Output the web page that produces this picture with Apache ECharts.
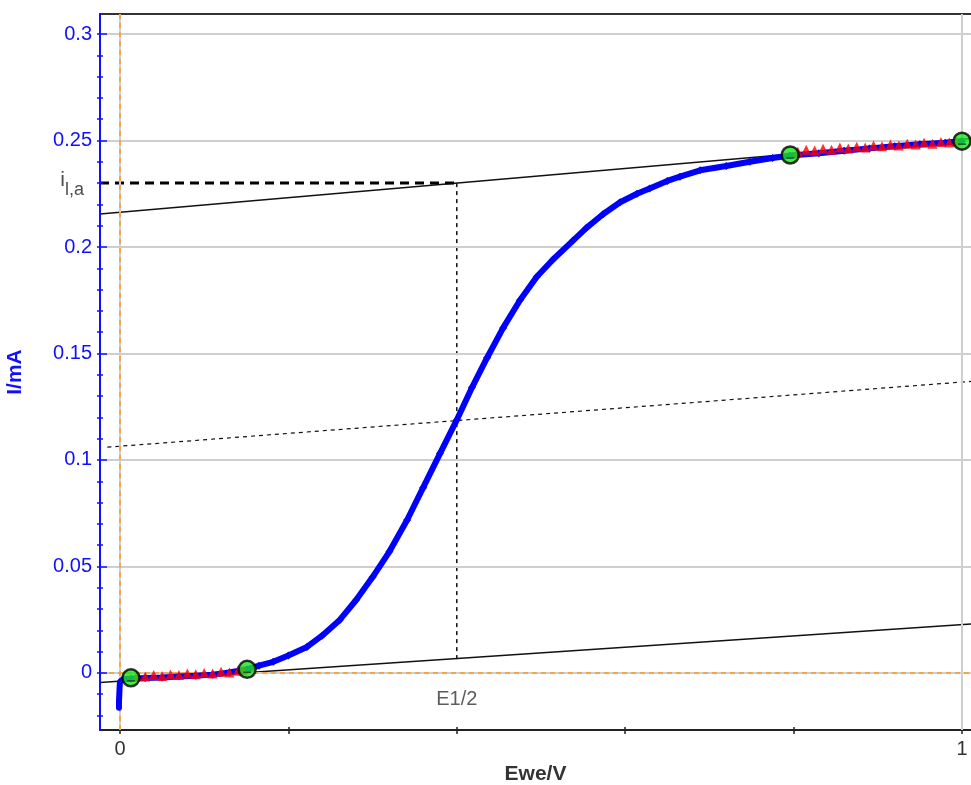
<!DOCTYPE html>
<html>
<head>
<meta charset="utf-8">
<script src="https://cdn.jsdelivr.net/npm/echarts@6/dist/echarts.min.js"></script>
<style>
html,body{margin:0;padding:0;background:#fff;}
#chart{width:971px;height:785px;}
</style>
</head>
<body>
<div id="chart"></div>
<script>
// ---- axis ranges and ticks ----
const xRange = [-0.02375, 1.0107];
const yRange = [-0.0268, 0.3094];
const xTicks = [0, 0.2, 0.4, 0.6, 0.8, 1];
const xTickLabels = [0, 1];
const yTickLabels = [0, 0.05, 0.1, 0.15, 0.2, 0.25, 0.3];
const yMinorTicks = [-0.02, -0.01, 0, 0.01, 0.02, 0.03, 0.04, 0.05, 0.06, 0.07, 0.08, 0.09, 0.1,
  0.11, 0.12, 0.13, 0.14, 0.15, 0.16, 0.17, 0.18, 0.19, 0.2, 0.21, 0.22, 0.23, 0.24, 0.25,
  0.26, 0.27, 0.28, 0.29, 0.3];
const xGridValues = [0, 1];

// ---- measured curve (Ewe/V, I/mA) ----
const blueSpike = [
  [-0.0012, -0.0163], [-0.0012, -0.013], [-0.0008, -0.010], [-0.0005, -0.007], [0.0, -0.004], [0.004, -0.003]
];
const bluePoints = [
  [0.004, -0.003],
  [0.013, -0.0027], [0.03, -0.0024], [0.05, -0.0021], [0.07, -0.0017], [0.09, -0.0013],
  [0.11, -0.0008], [0.13, 0.0002], [0.151, 0.0017], [0.165, 0.0034], [0.182, 0.0052],
  [0.20, 0.0082], [0.222, 0.0122], [0.24, 0.0175], [0.261, 0.0249], [0.28, 0.034],
  [0.30, 0.045], [0.32, 0.057], [0.341, 0.0718], [0.36, 0.087], [0.38, 0.103],
  [0.40, 0.1188], [0.418, 0.134], [0.436, 0.148], [0.455, 0.162], [0.475, 0.175],
  [0.495, 0.186], [0.514, 0.194], [0.538, 0.203], [0.554, 0.209], [0.574, 0.2155],
  [0.594, 0.221], [0.614, 0.225], [0.629, 0.2275], [0.65, 0.231], [0.665, 0.233],
  [0.689, 0.236], [0.72, 0.238], [0.748, 0.240], [0.775, 0.2418], [0.796, 0.2430],
  [0.83, 0.2440], [0.86, 0.2452], [0.89, 0.2463], [0.92, 0.2473], [0.95, 0.2482],
  [0.98, 0.2489], [1.0, 0.2497]
];
const redLeft = [
  [0.020, -0.0014], [0.030, -0.0017], [0.040, -0.0010], [0.050, -0.0014], [0.060, -0.0007],
  [0.070, -0.0010], [0.080, -0.0003], [0.090, -0.0006], [0.100, 0.0000], [0.110, -0.0003],
  [0.120, 0.0005], [0.130, 0.0002], [0.140, 0.0010], [0.146, 0.0013]
];
const redRight = [
  [0.805, 0.2447], [0.815, 0.2457], [0.825, 0.2453], [0.835, 0.2461], [0.845, 0.2457],
  [0.855, 0.2467], [0.865, 0.2463], [0.875, 0.2471], [0.885, 0.2467], [0.895, 0.2477],
  [0.905, 0.2473], [0.915, 0.2481], [0.925, 0.2477], [0.935, 0.2485], [0.945, 0.2481],
  [0.955, 0.2489], [0.965, 0.2485], [0.975, 0.2493], [0.985, 0.2491], [0.993, 0.2497]
];
const fitPoints = [[0.013, -0.0023], [0.151, 0.0017], [0.796, 0.2432], [1.0, 0.2497]];

// ---- construction lines ----
const upperLine = [[-0.02375, 0.2155], [1.0107, 0.2509]];
const lowerLine = [[-0.02375, -0.0045], [1.0107, 0.0230]];
const midLine = [[-0.015, 0.1060], [1.0107, 0.1369]];
const ilaLine = [[-0.02375, 0.23], [0.4, 0.23]];
const halfLine = [[0.4, 0.23], [0.4, 0.0056]];
const ilaLabelPoint = [[-0.02375, 0.23]];
const eHalfLabelPoint = [[0.4, -0.0127]];

const FONT = 'Liberation Sans';
const BLUE = '#1010ff';

function fmtY(v) { return String(+(+v).toFixed(2)); }

const chart = echarts.init(document.getElementById('chart'), null, {renderer: 'canvas'});

const baseX = {type: 'value', min: xRange[0], max: xRange[1], splitLine: {show: false}};
const baseY = {type: 'value', min: yRange[0], max: yRange[1], splitLine: {show: false}, position: 'left', offset: 0, z: 20};

const option = {
  animation: false,
  backgroundColor: '#ffffff',
  grid: {left: 100, right: 0, top: 14, bottom: 55, containLabel: false, outerBoundsMode: 'none'},
  xAxis: [
    Object.assign({}, baseX, {
      position: 'bottom',
      name: 'Ewe/V', nameLocation: 'middle', nameGap: 33,
      nameTextStyle: {fontFamily: FONT, fontSize: 21, fontWeight: 'bold', color: '#333'},
      axisLine: {show: true, onZero: false, lineStyle: {color: '#222', width: 2}},
      axisTick: {show: true, customValues: xTicks, length: 4, lineStyle: {color: '#222', width: 1.5}},
      axisLabel: {show: true, customValues: xTickLabels, margin: 9, fontFamily: FONT, fontSize: 20, color: '#333',
        formatter: v => String(+(+v).toFixed(2))}
    }),
    Object.assign({}, baseX, {
      position: 'top',
      axisLine: {show: true, onZero: false, lineStyle: {color: '#333', width: 2}},
      axisTick: {show: false}, axisLabel: {show: false}
    }),
    Object.assign({}, baseX, {
      position: 'bottom',
      axisLine: {show: true, onZero: false, lineStyle: {color: '#222', width: 2}},
      axisTick: {show: true, inside: true, customValues: xTicks, length: 3, lineStyle: {color: '#222', width: 1.5}},
      axisLabel: {show: false}
    })
  ],
  yAxis: [
    Object.assign({}, baseY, {
      name: 'I/mA', nameLocation: 'middle', nameGap: 74, nameRotate: 90,
      nameTextStyle: {fontFamily: FONT, fontSize: 21, fontWeight: 'bold', color: BLUE},
      axisLine: {show: true, onZero: false, lineStyle: {color: BLUE, width: 2}},
      axisTick: {show: true, inside: false, customValues: yMinorTicks, length: 3, lineStyle: {color: BLUE, width: 1.5}},
      axisLabel: {show: true, customValues: yTickLabels, margin: 8, fontFamily: FONT, fontSize: 20, color: BLUE,
        formatter: fmtY}
    }),
    Object.assign({}, baseY, {
      axisLine: {show: true, onZero: false, lineStyle: {color: BLUE, width: 2}},
      axisTick: {show: true, inside: true, customValues: yMinorTicks, length: 3, lineStyle: {color: BLUE, width: 1.5}},
      axisLabel: {show: false}
    }),
    Object.assign({}, baseY, {
      axisLine: {show: true, onZero: false, lineStyle: {color: BLUE, width: 2}},
      axisTick: {show: true, inside: true, customValues: yTickLabels, length: 7, lineStyle: {color: BLUE, width: 1.5}},
      axisLabel: {show: false}
    })
  ],
  series: [
    {
      name: 'grid', type: 'line', data: [], z: 1, silent: true,
      markLine: {
        silent: true, symbol: ['none', 'none'], animation: false,
        label: {show: false},
        lineStyle: {color: '#cfcfcf', width: 2, type: 'solid'},
        data: yTickLabels.map(v => ({yAxis: v})).concat(xGridValues.map(v => ({xAxis: v})))
      }
    },
    {
      name: 'zero', type: 'line', data: [], z: 2, silent: true,
      markLine: {
        silent: true, symbol: ['none', 'none'], animation: false,
        label: {show: false},
        lineStyle: {color: '#ff9a1f', width: 1.5, type: [5, 4]},
        data: [{xAxis: 0}, {yAxis: 0}]
      }
    },
    {type: 'line', data: upperLine, showSymbol: false, symbol: 'none', z: 3, lineStyle: {color: '#111', width: 1.5}},
    {type: 'line', data: lowerLine, showSymbol: false, symbol: 'none', z: 3, lineStyle: {color: '#111', width: 1.5}},
    {type: 'line', data: midLine, showSymbol: false, symbol: 'none', z: 3, lineStyle: {color: '#111', width: 1.2, type: [4, 4]}},
    {type: 'line', data: ilaLine, showSymbol: false, symbol: 'none', z: 3, lineStyle: {color: '#000', width: 3, type: [9, 6]}},
    {type: 'line', data: halfLine, showSymbol: false, symbol: 'none', z: 3, lineStyle: {color: '#111', width: 1.5, type: [4, 4]}},
    {
      type: 'line', data: blueSpike, z: 5, showSymbol: false, symbol: 'none', clip: false,
      lineStyle: {color: '#0000ff', width: 6, cap: 'round'}
    },
    {
      type: 'line', data: bluePoints, z: 5, symbol: 'diamond', symbolSize: 8, showSymbol: true, clip: false,
      itemStyle: {color: '#0000ff'}, lineStyle: {color: '#0000ff', width: 6}
    },
    {type: 'scatter', data: redLeft, z: 10, symbol: 'triangle', symbolSize: 10, itemStyle: {color: '#ff0000'}},
    {type: 'scatter', data: redRight, z: 10, symbol: 'triangle', symbolSize: 10, itemStyle: {color: '#ff0000'}},
    {type: 'scatter', data: fitPoints, z: 12, symbol: 'circle', symbolSize: 17,
      itemStyle: {color: '#19e619', borderColor: '#000', borderWidth: 2.5}},
    {type: 'scatter', data: fitPoints, z: 12.5, symbol: 'rect', symbolSize: [8, 1.5], symbolOffset: [0, 3], silent: true,
      itemStyle: {color: '#1a3a1a'}},
    {
      type: 'scatter', data: ilaLabelPoint, z: 13, symbolSize: 0, silent: true,
      label: {
        show: true, position: 'left', distance: 16,
        formatter: '{i|i}{s|l,a}',
        rich: {
          i: {fontFamily: FONT, fontSize: 21, color: '#222', padding: [0, 0, 6, 0]},
          s: {fontFamily: FONT, fontSize: 18, color: '#222', padding: [14, 0, 0, 0]}
        }
      }
    },
    {
      type: 'scatter', data: eHalfLabelPoint, z: 13, symbolSize: 0, silent: true,
      label: {show: true, position: 'inside', formatter: 'E1/2', fontFamily: FONT, fontSize: 20, color: '#333'}
    }
  ]
};
chart.setOption(option);
</script>
</body>
</html>
